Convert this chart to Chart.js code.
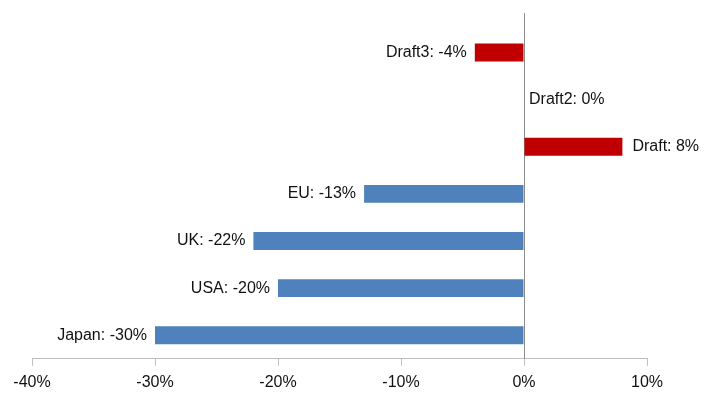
<!DOCTYPE html>
<html>
<head>
<meta charset="utf-8">
<script src="https://cdn.jsdelivr.net/npm/chart.js@4/dist/chart.umd.min.js"></script>
<style>
  html, body { margin: 0; padding: 0; background: #fff; }
  #wrap { width: 704px; height: 394px; }
</style>
</head>
<body>
<div id="wrap"><canvas id="chart"></canvas></div>
<script>
// ---- data ----
const categories = ["Draft3", "Draft2", "Draft", "EU", "UK", "USA", "Japan"];
const values = [-4, 0, 8, -13, -22, -20, -30];
const xTicks = [-40, -30, -20, -10, 0, 10];

const RED = "#c00000";
const BLUE = "#4f81bd";
const FONT = "'Liberation Sans', Arial, sans-serif";

// labels "Name: value%" next to the bar end
const barLabels = {
    id: "barLabels",
    afterDatasetsDraw(chart) {
        const ctx = chart.ctx;
        const meta = chart.getDatasetMeta(0);
        ctx.save();
        ctx.font = "16px " + FONT;
        ctx.fillStyle = "#111";
        ctx.textBaseline = "middle";
        meta.data.forEach((bar, i) => {
            const v = values[i];
            const text = categories[i] + ": " + v + "%";
            if (v < 0) {
                ctx.textAlign = "right";
                ctx.fillText(text, bar.x - 8, bar.y);
            } else {
                ctx.textAlign = "left";
                ctx.fillText(text, bar.x + (v === 0 ? 5 : 10), bar.y);
            }
        });
        ctx.restore();
    }
};

// vertical line at 0
const zeroLine = {
    id: "zeroLine",
    beforeDatasetsDraw(chart) {
        const ctx = chart.ctx;
        const x = Math.round(chart.scales.x.getPixelForValue(0)) + 0.5;
        ctx.save();
        ctx.strokeStyle = "#8c8c8c";
        ctx.lineWidth = 1;
        ctx.beginPath();
        ctx.moveTo(x, chart.chartArea.top - 16);
        ctx.lineTo(x, chart.chartArea.bottom);
        ctx.stroke();
        ctx.restore();
    }
};

new Chart(document.getElementById("chart"), {
    type: "bar",
    data: {
        labels: categories,
        datasets: [{
            data: values,
            backgroundColor: categories.map(c => c.startsWith("Draft") ? RED : BLUE),
            borderWidth: 0,
            categoryPercentage: 1,
            barPercentage: 0.38
        }]
    },
    options: {
        indexAxis: "y",
        responsive: true,
        maintainAspectRatio: false,
        animation: false,
        layout: { padding: { left: 32, right: 57, top: 29, bottom: -5 } },
        plugins: {
            legend: { display: false },
            tooltip: { enabled: false }
        },
        scales: {
            x: {
                min: -40,
                max: 10,
                afterBuildTicks: axis => { axis.ticks = xTicks.map(v => ({ value: v })); },
                ticks: {
                    callback: v => v + "%",
                    color: "#111",
                    font: { family: FONT, size: 16 },
                    padding: 7,
                    maxRotation: 0
                },
                grid: {
                    drawOnChartArea: false,
                    tickLength: 7,
                    tickColor: "#bfbfbf"
                },
                border: { color: "#bfbfbf", width: 1 }
            },
            y: { display: false }
        }
    },
    plugins: [zeroLine, barLabels]
});
</script>
</body>
</html>
